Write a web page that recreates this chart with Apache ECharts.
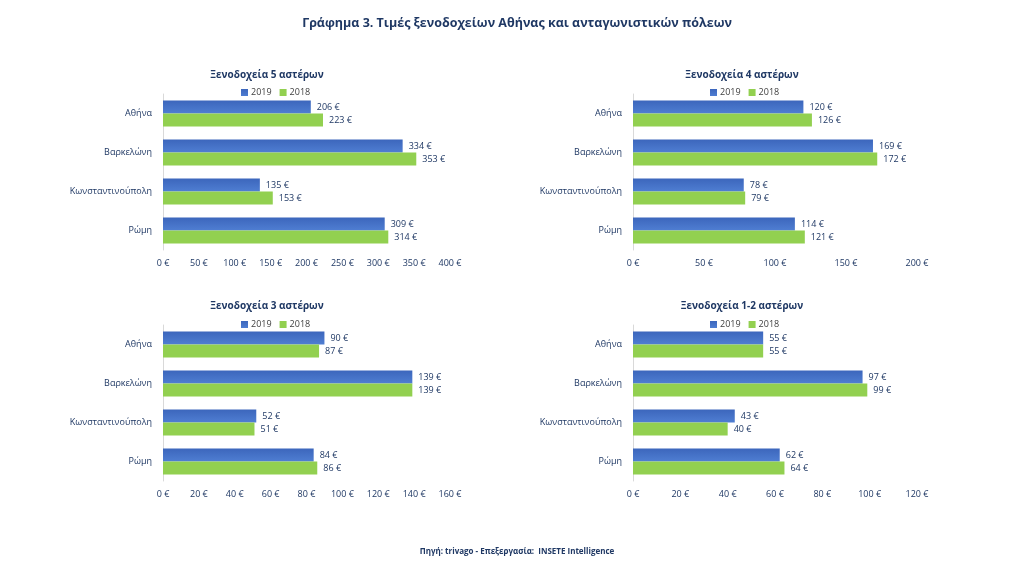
<!DOCTYPE html>
<html><head><meta charset="utf-8">
<script src="https://cdn.jsdelivr.net/npm/echarts@6/dist/echarts.min.js"></script>
<style>html,body{margin:0;padding:0;background:#fff}#c{width:1024px;height:576px}</style>
</head><body><div id="c"></div>
<script>
const mainTitle = 'Γράφημα 3. Τιμές ξενοδοχείων Αθήνας και ανταγωνιστικών πόλεων';
const footer = 'Πηγή: trivago - Επεξεργασία:  INSETE Intelligence';
const categories = ['Αθήνα', 'Βαρκελώνη', 'Κωνσταντινούπολη', 'Ρώμη'];
const seriesNames = ['2019', '2018'];
const chartTitles = ['Ξενοδοχεία 5 αστέρων', 'Ξενοδοχεία 4 αστέρων', 'Ξενοδοχεία 3 αστέρων', 'Ξενοδοχεία 1-2 αστέρων'];
const stars5_2019 = [206, 334, 135, 309];
const stars5_2018 = [223, 353, 153, 314];
const stars4_2019 = [120, 169, 78, 114];
const stars4_2018 = [126, 172, 79, 121];
const stars3_2019 = [90, 139, 52, 84];
const stars3_2018 = [87, 139, 51, 86];
const stars12_2019 = [55, 97, 43, 62];
const stars12_2018 = [55, 99, 40, 64];
const axisMax = [400, 200, 160, 120];
const axisStep = [50, 50, 20, 20];

const data2019 = [stars5_2019, stars4_2019, stars3_2019, stars12_2019];
const data2018 = [stars5_2018, stars4_2018, stars3_2018, stars12_2018];

const navy = '#1F3864';
const font = 'Open Sans';
const grids = [
  {left: 163, right: 574, top: 94, height: 156},
  {left: 633, right: 107, top: 94, height: 156},
  {left: 163, right: 574, top: 325, height: 156},
  {left: 633, right: 107, top: 325, height: 156}
];
const titleCx = [262, 737, 262, 737];
const titleY = [65, 65, 296, 296];
const legendX = [236, 705, 236, 705];
const legendY = [83, 83, 315, 315];

const blue = new echarts.graphic.LinearGradient(0, 0, 0, 1, [{offset: 0, color: '#3C66BC'}, {offset: 1, color: '#4F7ED2'}]);
const green = '#92D050';

const titles = [{
  text: mainTitle, left: 512, top: 12, textAlign: 'center',
  textStyle: {color: navy, fontFamily: font, fontSize: 12.5, fontWeight: 'bold'}
}];
const legends = [];
const xAxes = [], yAxes = [], series = [];
for (let i = 0; i < 4; i++) {
  titles.push({text: chartTitles[i], left: titleCx[i], top: titleY[i], textAlign: 'center',
    textStyle: {color: navy, fontFamily: font, fontSize: 10, fontWeight: 'bold'}});
  legends.push({data: seriesNames, left: legendX[i], top: legendY[i], itemWidth: 7, itemHeight: 7,
    itemGap: 8, icon: 'rect', textStyle: {color: '#404040', fontFamily: font, fontSize: 9, padding: [0, 0, 0, -2]}});
  xAxes.push({type: 'value', gridIndex: i, min: 0, max: axisMax[i], interval: axisStep[i],
    splitLine: {show: false}, axisLine: {show: false}, axisTick: {show: false},
    axisLabel: {formatter: '{value} €', color: navy, fontFamily: font, fontSize: 9, margin: 9}});
  yAxes.push({type: 'category', gridIndex: i, data: categories, inverse: true,
    axisLine: {show: true, lineStyle: {color: '#D9D9D9'}}, axisTick: {show: false},
    axisLabel: {color: navy, fontFamily: font, fontSize: 9, margin: 11}});
  const lbl = {show: true, position: 'right', distance: 6, formatter: '{c} €', color: navy, fontFamily: font, fontSize: 9};
  series.push({name: seriesNames[0], type: 'bar', xAxisIndex: i, yAxisIndex: i, data: data2019[i],
    itemStyle: {color: blue}, barGap: '0%', barCategoryGap: '33%', label: lbl});
  series.push({name: seriesNames[1], type: 'bar', xAxisIndex: i, yAxisIndex: i, data: data2018[i],
    itemStyle: {color: green}, barGap: '0%', barCategoryGap: '33%', label: lbl});
}
titles.push({text: footer, left: 512, top: 543, textAlign: 'center',
  textStyle: {color: navy, fontFamily: font, fontSize: 8, fontWeight: 'bold'}});

const chart = echarts.init(document.getElementById('c'));
chart.setOption({
  animation: false,
  backgroundColor: '#fff',
  color: ['#4472C4', green],
  title: titles,
  legend: legends,
  grid: grids,
  xAxis: xAxes,
  yAxis: yAxes,
  series: series
});
</script></body></html>
